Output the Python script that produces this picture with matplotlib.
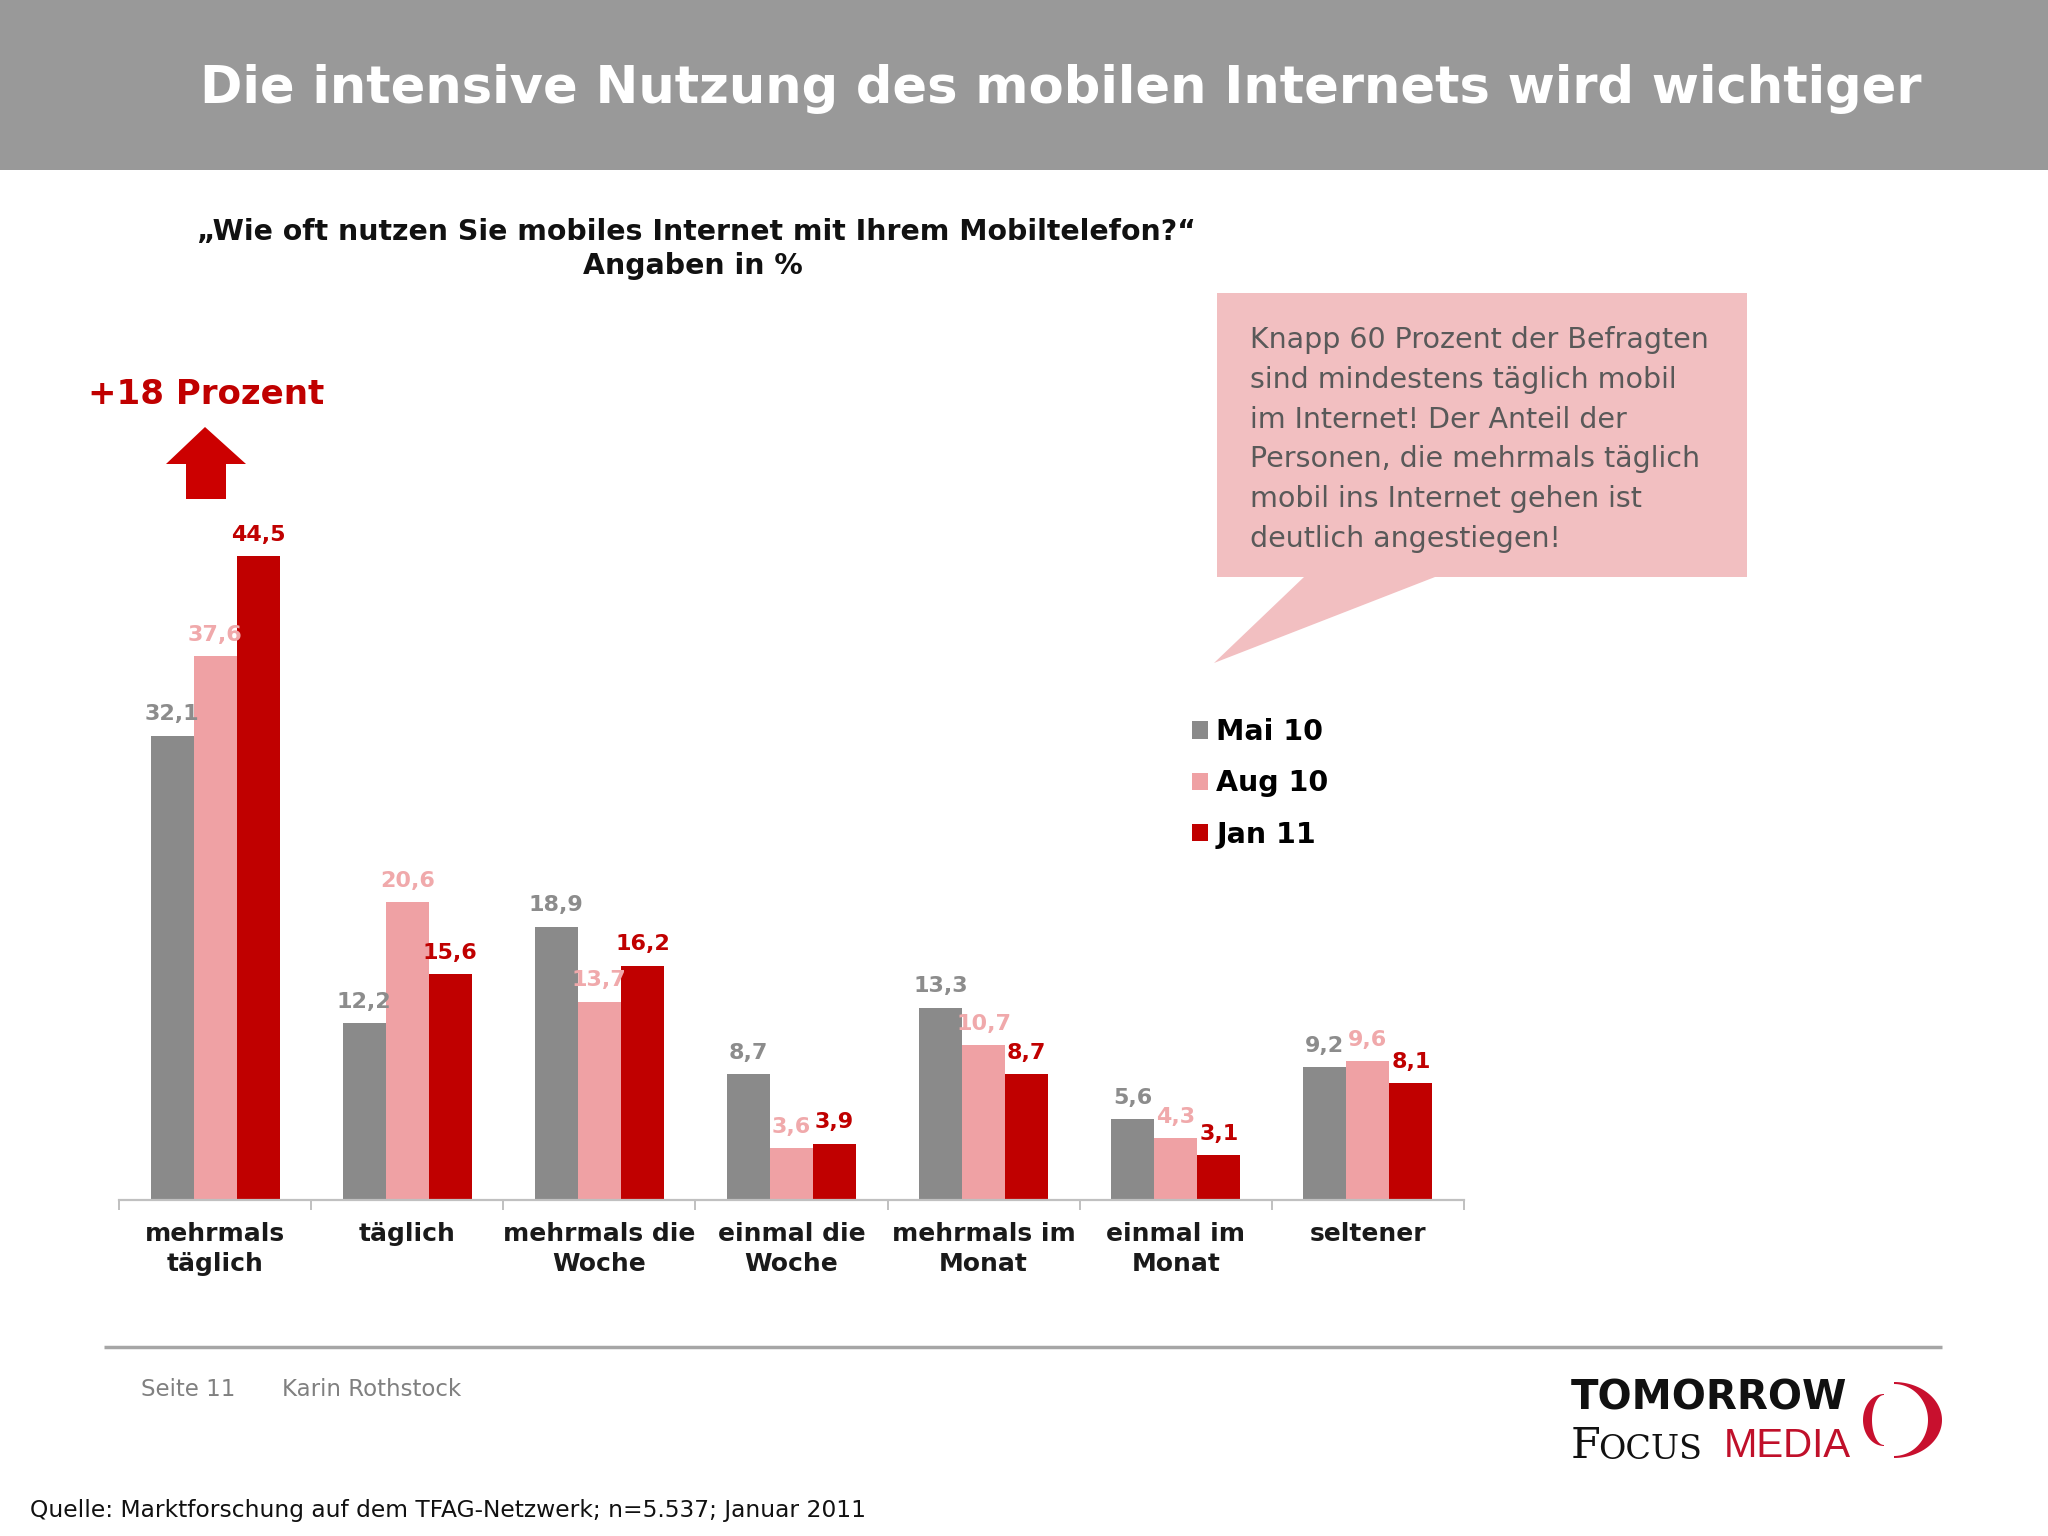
import matplotlib
matplotlib.use("Agg")
import matplotlib.pyplot as plt
import numpy as np
from matplotlib.patches import Rectangle, Polygon

# data
categories = ["mehrmals\ntäglich", "täglich", "mehrmals die\nWoche", "einmal die\nWoche",
              "mehrmals im\nMonat", "einmal im\nMonat", "seltener"]
series_names = ["Mai 10", "Aug 10", "Jan 11"]
mai_10 = [32.1, 12.2, 18.9, 8.7, 13.3, 5.6, 9.2]
aug_10 = [37.6, 20.6, 13.7, 3.6, 10.7, 4.3, 9.6]
jan_11 = [44.5, 15.6, 16.2, 3.9, 8.7, 3.1, 8.1]

box_lines = ["Knapp 60 Prozent der Befragten",
             "sind mindestens täglich mobil",
             "im Internet! Der Anteil der",
             "Personen, die mehrmals täglich",
             "mobil ins Internet gehen ist",
             "deutlich angestiegen!"]

bar_colors = ['#8a8a8a', '#efa1a4', '#c00000']
label_colors = ['#8c8c8c', '#f0a9ab', '#c00000']

W, H = 2048, 1536
fig = plt.figure(figsize=(W / 100, H / 100), dpi=100, facecolor='w')

# background layer in pixel coordinates (slide decorations)
bg = fig.add_axes([0, 0, 1, 1], zorder=0)
bg.set_xlim(0, W)
bg.set_ylim(H, 0)
bg.axis('off')

bg.add_patch(Rectangle((0, 0), W, 170, color='#999999', lw=0))
bg.text(1061, 89, "Die intensive Nutzung des mobilen Internets wird wichtiger",
        color='w', fontsize=36.8, fontweight='bold', ha='center', va='center')

bg.text(696, 232, "\u201eWie oft nutzen Sie mobiles Internet mit Ihrem Mobiltelefon?\u201c",
        fontsize=20.4, fontweight='bold', ha='center', va='center', color='#111111')
bg.text(693, 266, "Angaben in %", fontsize=20.4, fontweight='bold', ha='center', va='center',
        color='#111111')

# +18 Prozent with arrow
bg.text(206, 394, "+18 Prozent", color='#c00000', fontsize=24.5, fontweight='bold',
        ha='center', va='center')
bg.add_patch(Polygon([(205, 427), (246, 464), (226, 464), (226, 499), (186, 499),
                      (186, 464), (166, 464)], closed=True, color='#cc0000', lw=0))

# speech bubble
bg.add_patch(Polygon([(1217, 293), (1747, 293), (1747, 577), (1435, 577), (1214, 663),
                      (1304, 577), (1217, 577)], closed=True, color='#f2bfc1', lw=0))
for i, line in enumerate(box_lines):
    bg.text(1250, 340 + i * 39.8, line, fontsize=20.5, color='#595959', ha='left', va='center')

# footer
bg.plot([104, 1942], [1347, 1347], color='#a6a6a6', lw=2.5, solid_capstyle='butt')
bg.text(141, 1390, "Seite 11", fontsize=16.5, color='#808080', va='center')
bg.text(282, 1390, "Karin Rothstock", fontsize=16.5, color='#808080', va='center')
bg.text(30, 1511, "Quelle: Marktforschung auf dem TFAG-Netzwerk; n=5.537; Januar 2011",
        fontsize=16.8, color='#111111', va='center')

# logo
bg.text(1571, 1398, "TOMORROW", fontsize=29, fontweight='heavy', color='#111111', va='center')
bg.text(1571, 1446, "F", fontsize=31, family='DejaVu Serif', color='#111111', va='center')
bg.text(1598, 1450, "OCUS", fontsize=24, family='DejaVu Serif', color='#111111', va='center')
bg.text(1724, 1446, "MEDIA", fontsize=29, family='Liberation Sans', color='#c0102a', va='center')
t = np.linspace(-np.pi / 2, np.pi / 2, 60)
outer = np.column_stack([1894 + 48 * np.cos(t), 1420 + 38 * np.sin(t)])
inner = np.column_stack([1894 + 34 * np.cos(t[::-1]), 1420 + 36 * np.sin(t[::-1])])
bg.add_patch(Polygon(np.vstack([outer, inner]), closed=True, color='#c8102e', lw=0))
outer = np.column_stack([1884 - 21 * np.cos(t), 1420 + 26 * np.sin(t)])
inner = np.column_stack([1884 - 12 * np.cos(t[::-1]), 1420 + 25 * np.sin(t[::-1])])
bg.add_patch(Polygon(np.vstack([outer, inner]), closed=True, color='#c8102e', lw=0))

# bar chart
y_max = 50
ax = fig.add_axes([119 / W, 1 - 1200 / H, (1464 - 119) / W, y_max * 14.47 / H], zorder=2)
ax.set_facecolor('none')
x = np.arange(len(categories))
w = 0.224
series = [mai_10, aug_10, jan_11]
handles = []
for k, vals in enumerate(series):
    pos = x + (k - 1) * w
    b = ax.bar(pos, vals, width=w, color=bar_colors[k], lw=0, label=series_names[k])
    handles.append(b)
    for xp, v in zip(pos, vals):
        ax.annotate("{:.1f}".format(v).replace('.', ','), xy=(xp, v), xytext=(0, 11),
                    textcoords='offset points', ha='center', va='baseline',
                    fontsize=16, fontweight='bold', color=label_colors[k])

ax.set_xlim(-0.5, len(categories) - 0.5)
ax.set_ylim(0, y_max)
ax.set_yticks([])
for s in ['left', 'top', 'right']:
    ax.spines[s].set_visible(False)
ax.spines['bottom'].set_color('#c0c0c0')
ax.spines['bottom'].set_linewidth(1.6)
ax.set_xticks(x)
ax.set_xticklabels(categories, fontsize=18, fontweight='bold', color='#1a1a1a',
                   linespacing=1.3)
ax.tick_params(axis='x', which='major', length=0, pad=16)
ax.set_xticks(np.arange(-0.5, len(categories)), minor=True)
ax.tick_params(axis='x', which='minor', length=7, width=1.4, color='#c0c0c0', direction='out')

leg = ax.legend(handles=handles, loc='upper left', bbox_to_anchor=(1192, 718),
                bbox_transform=bg.transData, frameon=False, borderpad=0, borderaxespad=0,
                handlelength=0.55, handleheight=0.55, handletextpad=0.3, labelspacing=0.82,
                prop={'size': 20.5, 'weight': 'bold'})

fig.savefig('out.png', dpi=100)
